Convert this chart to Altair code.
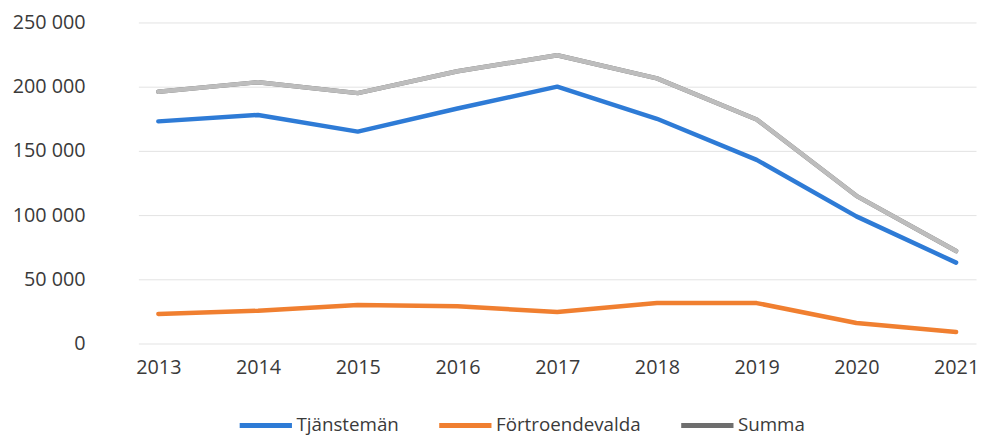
import altair as alt
import pandas as pd

years = [str(y) for y in range(2013, 2022)]
series_names = ["Tjänstemän", "Förtroendevalda", "Summa"]
tjanstemän = [173000, 178000, 165000, 183000, 200000, 175000, 143000, 99000, 63000]
fortroendevalda = [23000, 25500, 30000, 29000, 24500, 31500, 31500, 16000, 9000]
summa = [196000, 203500, 195000, 212000, 224500, 206500, 174500, 115000, 72000]
colors = ["#2E7BD6", "#F07F30", "#6E6E6E"]
summa_line_color = "#BDBDBD"
y_ticks = [0, 50000, 100000, 150000, 200000, 250000]

rows = []
for name, vals in zip(series_names, [tjanstemän, fortroendevalda, summa]):
    for yr, v in zip(years, vals):
        rows.append({"År": yr, "Serie": name, "Värde": v})
df = pd.DataFrame(rows)

FONT = "Open Sans"

x_enc = alt.X("År:O", sort=years, title=None,
              scale=alt.Scale(type="point", padding=0.2),
              axis=alt.Axis(labelAngle=0, ticks=False, domain=False, grid=False,
                            labelPadding=14, labelFontSize=20, labelColor="#3a3a3a",
                            labelFont=FONT))
y_enc = alt.Y("Värde:Q", title=None,
              scale=alt.Scale(domain=[0, 250000], nice=False),
              axis=alt.Axis(values=y_ticks, ticks=False, domain=False,
                            labelExpr="replace(format(datum.value, ','), ',', ' ')",
                            labelPadding=54, labelFontSize=20, labelColor="#3a3a3a",
                            labelFont=FONT, gridColor="#E3E3E3", gridWidth=1))

base = alt.Chart(df).mark_line(strokeWidth=4.5, strokeCap="round", strokeJoin="round").encode(
    x=x_enc,
    y=y_enc,
    color=alt.Color("Serie:N", sort=series_names,
                    scale=alt.Scale(domain=series_names, range=colors),
                    legend=alt.Legend(title=None, orient="none", direction="horizontal",
                                      legendX=100, legendY=379,
                                      symbolType="stroke", symbolSize=2800,
                                      symbolStrokeWidth=5, labelOffset=2,
                                      columnPadding=30, labelFontSize=19,
                                      labelFont=FONT, labelColor="#3a3a3a")),
    detail="Serie:N",
)

summa_overlay = alt.Chart(df).transform_filter(alt.datum.Serie == "Summa").mark_line(
    strokeWidth=4.5, strokeCap="round", strokeJoin="round", color=summa_line_color
).encode(x=alt.X("År:O", sort=years), y="Värde:Q")

chart = alt.layer(base, summa_overlay).properties(
    width=848, height=325, background="white",
    padding={"left": 4, "top": 2, "right": 0, "bottom": 0},
).configure_view(strokeWidth=0, stroke=None)

chart.save("out.html", embed_options={"renderer": "svg", "actions": False})
